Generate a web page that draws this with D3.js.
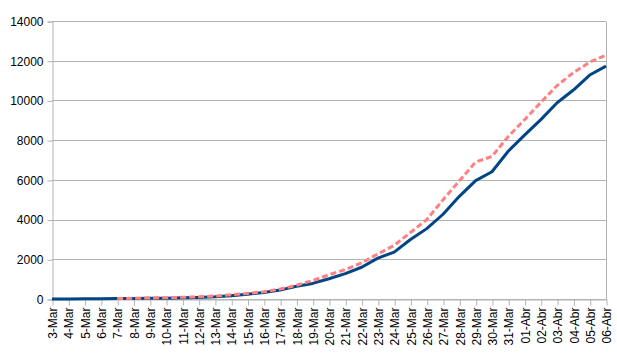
<!DOCTYPE html>
<html>
<head>
<meta charset="utf-8">
<script src="https://cdn.jsdelivr.net/npm/d3@7"></script>
<style>
  html, body { margin: 0; padding: 0; background: #fff; }
  svg { display: block; }
  text { font-family: "Liberation Sans", Arial, sans-serif; font-size: 12px; fill: #000; }
</style>
</head>
<body>
<svg id="chart" width="617" height="358"></svg>
<script>
const categories = ["3-Mar","4-Mar","5-Mar","6-Mar","7-Mar","8-Mar","9-Mar","10-Mar","11-Mar","12-Mar",
  "13-Mar","14-Mar","15-Mar","16-Mar","17-Mar","18-Mar","19-Mar","20-Mar","21-Mar","22-Mar",
  "23-Mar","24-Mar","25-Mar","26-Mar","27-Mar","28-Mar","29-Mar","30-Mar","31-Mar",
  "01-Abr","02-Abr","03-Abr","04-Abr","05-Abr","06-Abr"];

const confirmed = [4,6,9,13,21,30,39,41,59,78,
  112,169,245,331,448,642,785,1020,1280,1600,
  2060,2362,2995,3544,4268,5170,5962,6408,7443,
  8251,9034,9886,10524,11278,11730];

const projected = [null,null,null,null,25,35,50,65,85,110,
  150,210,280,370,500,690,930,1220,1480,1820,
  2270,2700,3350,4000,5000,5950,6900,7180,8180,
  9030,9900,10750,11400,11930,12280];

const yTicks = [0,2000,4000,6000,8000,10000,12000,14000];

(function () {
const svg = d3.select("#chart");
const mLeft = 52, mRight = 606, mTop = 21, mBottom = 299;

const x = d3.scalePoint().domain(categories).range([mLeft, mRight]);
const y = d3.scaleLinear().domain([0, 14000]).range([mBottom, mTop]);

// gridlines
svg.append("g").selectAll("line").data(yTicks).join("line")
  .attr("x1", mLeft).attr("x2", mRight)
  .attr("y1", d => Math.round(y(d)) + 0.5).attr("y2", d => Math.round(y(d)) + 0.5)
  .attr("stroke", "#b3b3b3").attr("stroke-width", 1);

// right border
svg.append("line").attr("x1", mRight + 0.5).attr("x2", mRight + 0.5)
  .attr("y1", Math.round(y(14000)) + 0.5).attr("y2", mBottom + 0.5)
  .attr("stroke", "#b3b3b3");

// y axis
const yAxis = d3.axisLeft(y).tickValues(yTicks).tickSize(5).tickPadding(4).tickFormat(d3.format("d"));
const gy = svg.append("g").attr("transform", `translate(${mLeft + 0.5},0.5)`).call(yAxis);
gy.select(".domain").attr("stroke", "#b3b3b3");
gy.selectAll(".tick line").attr("stroke", "#b3b3b3");
gy.selectAll("text").attr("font-family", "Liberation Sans, Arial, sans-serif").attr("font-size", 12).attr("fill", "#000");

// x axis
const xAxis = d3.axisBottom(x).tickSize(6).tickSizeOuter(0);
const gx = svg.append("g").attr("transform", `translate(0.5,${mBottom + 0.5})`).call(xAxis);
gx.select(".domain").attr("stroke", "#b3b3b3");
gx.selectAll(".tick line").attr("stroke", "#b3b3b3");
gx.selectAll("text")
  .attr("font-family", "Liberation Sans, Arial, sans-serif").attr("font-size", 12).attr("fill", "#000")
  .attr("text-anchor", "end")
  .attr("transform", "rotate(-90)")
  .attr("x", -8).attr("y", 0).attr("dy", "0.35em");

// lines
const line = d3.line().defined(d => d.v != null).x(d => x(d.c)).y(d => y(d.v));
svg.append("path")
  .datum(categories.map((c, i) => ({c, v: confirmed[i]})))
  .attr("d", line).attr("fill", "none")
  .attr("stroke", "#004586").attr("stroke-width", 3).attr("stroke-linejoin", "round");

svg.append("path")
  .datum(categories.map((c, i) => ({c, v: projected[i]})))
  .attr("d", line).attr("fill", "none")
  .attr("stroke", "#ff8080").attr("stroke-width", 3).attr("stroke-dasharray", "6,3");
})();
</script>
</body>
</html>
